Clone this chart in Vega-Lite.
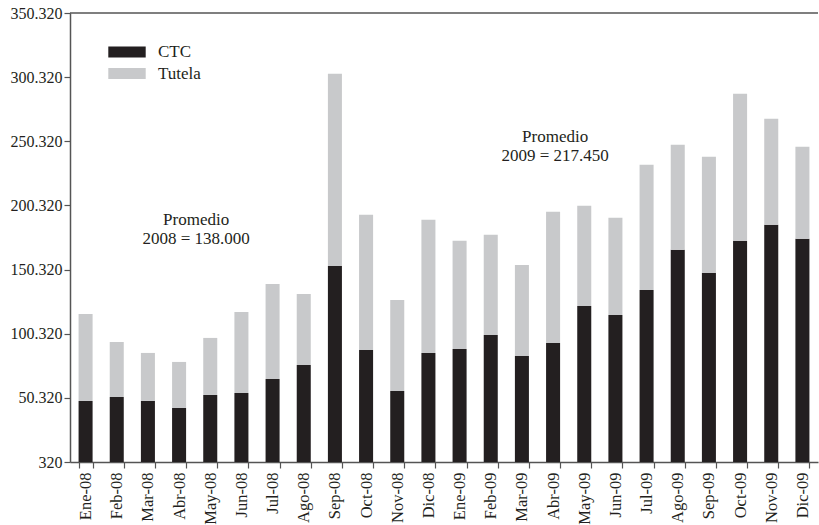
{
  "$schema": "https://vega.github.io/schema/vega-lite/v6.json",
  "width": 748,
  "height": 449,
  "autosize": {"type": "none"},
  "padding": {"left": 70, "top": 13, "right": 1, "bottom": 63},
  "background": "white",
  "config": {
    "view": {"stroke": null},
    "font": "Liberation Serif",
    "axis": {
      "domainColor": "#555555",
      "domainWidth": 1.5,
      "tickColor": "#555555",
      "tickWidth": 1.2,
      "tickSize": 6,
      "labelFont": "Liberation Serif",
      "labelFontSize": 16,
      "labelColor": "#231f20",
      "grid": false,
      "title": null
    }
  },
  "data": {
    "values": [
      {"mes": "Ene-08", "serie": "CTC", "valor": 47900}, {"mes": "Ene-08", "serie": "Tutela", "valor": 67860},
      {"mes": "Feb-08", "serie": "CTC", "valor": 51020}, {"mes": "Feb-08", "serie": "Tutela", "valor": 42900},
      {"mes": "Mar-08", "serie": "CTC", "valor": 47900}, {"mes": "Mar-08", "serie": "Tutela", "valor": 37440},
      {"mes": "Abr-08", "serie": "CTC", "valor": 42440}, {"mes": "Abr-08", "serie": "Tutela", "valor": 35880},
      {"mes": "May-08", "serie": "CTC", "valor": 52580}, {"mes": "May-08", "serie": "Tutela", "valor": 44460},
      {"mes": "Jun-08", "serie": "CTC", "valor": 54140}, {"mes": "Jun-08", "serie": "Tutela", "valor": 63180},
      {"mes": "Jul-08", "serie": "CTC", "valor": 65060}, {"mes": "Jul-08", "serie": "Tutela", "valor": 74100},
      {"mes": "Ago-08", "serie": "CTC", "valor": 75980}, {"mes": "Ago-08", "serie": "Tutela", "valor": 55380},
      {"mes": "Sep-08", "serie": "CTC", "valor": 153200}, {"mes": "Sep-08", "serie": "Tutela", "valor": 149760},
      {"mes": "Oct-08", "serie": "CTC", "valor": 87680}, {"mes": "Oct-08", "serie": "Tutela", "valor": 105300},
      {"mes": "Nov-08", "serie": "CTC", "valor": 55700}, {"mes": "Nov-08", "serie": "Tutela", "valor": 70980},
      {"mes": "Dic-08", "serie": "CTC", "valor": 85340}, {"mes": "Dic-08", "serie": "Tutela", "valor": 103740},
      {"mes": "Ene-09", "serie": "CTC", "valor": 88460}, {"mes": "Ene-09", "serie": "Tutela", "valor": 84240},
      {"mes": "Feb-09", "serie": "CTC", "valor": 99380}, {"mes": "Feb-09", "serie": "Tutela", "valor": 78000},
      {"mes": "Mar-09", "serie": "CTC", "valor": 83000}, {"mes": "Mar-09", "serie": "Tutela", "valor": 70980},
      {"mes": "Abr-09", "serie": "CTC", "valor": 93140}, {"mes": "Abr-09", "serie": "Tutela", "valor": 102180},
      {"mes": "May-09", "serie": "CTC", "valor": 122000}, {"mes": "May-09", "serie": "Tutela", "valor": 78000},
      {"mes": "Jun-09", "serie": "CTC", "valor": 114980}, {"mes": "Jun-09", "serie": "Tutela", "valor": 75660},
      {"mes": "Jul-09", "serie": "CTC", "valor": 134480}, {"mes": "Jul-09", "serie": "Tutela", "valor": 97500},
      {"mes": "Ago-09", "serie": "CTC", "valor": 165680}, {"mes": "Ago-09", "serie": "Tutela", "valor": 81900},
      {"mes": "Sep-09", "serie": "CTC", "valor": 147740}, {"mes": "Sep-09", "serie": "Tutela", "valor": 90480},
      {"mes": "Oct-09", "serie": "CTC", "valor": 172700}, {"mes": "Oct-09", "serie": "Tutela", "valor": 114660},
      {"mes": "Nov-09", "serie": "CTC", "valor": 185180}, {"mes": "Nov-09", "serie": "Tutela", "valor": 82680},
      {"mes": "Dic-09", "serie": "CTC", "valor": 174260}, {"mes": "Dic-09", "serie": "Tutela", "valor": 71760}
    ]
  },
  "layer": [
    {
      "mark": {"type": "bar", "clip": true},
      "encoding": {
        "x": {
          "field": "mes",
          "type": "nominal",
          "sort": null,
          "scale": {"paddingInner": 0.55, "paddingOuter": 0.275},
          "axis": {"labelAngle": -90, "labelPadding": 4, "labelFontSize": 16.5, "tickBand": "extent", "labelBaseline": "middle", "labelAlign": "right"}
        },
        "y": {
          "field": "valor",
          "type": "quantitative",
          "stack": "zero",
          "scale": {"domain": [320, 350320], "zero": false, "nice": false},
          "axis": {
            "values": [320, 50320, 100320, 150320, 200320, 250320, 300320, 350320],
            "labelExpr": "replace(format(datum.value, ','), ',', '.')",
            "labelPadding": 2
          }
        },
        "order": {"field": "serie", "sort": "ascending"},
        "color": {
          "field": "serie",
          "type": "nominal",
          "scale": {"domain": ["CTC", "Tutela"], "range": ["#231f20", "#c8c9cb"]},
          "legend": {
            "orient": "none",
            "legendX": 46,
            "legendY": 28,
            "title": null,
            "padding": 0,
            "symbolType": "M-1.7,-0.5L1.7,-0.5L1.7,0.5L-1.7,0.5Z",
            "symbolSize": 484,
            "symbolStrokeWidth": 0,
            "symbolOpacity": 1,
            "labelFont": "Liberation Serif",
            "labelFontSize": 17,
            "labelColor": "#231f20",
            "labelOffset": 20,
            "rowPadding": 2.5
          }
        }
      }
    },
    {
      "data": {"values": [{}]},
      "mark": {"type": "rule", "color": "#555555", "strokeWidth": 1.5},
      "encoding": {"y": {"datum": 350320}}
    },
    {
      "data": {"values": [{}]},
      "mark": {"type": "text", "text": ["Promedio", "2008 = 138.000"], "font": "Liberation Serif", "fontSize": 17, "lineHeight": 19, "fill": "#231f20", "align": "center", "baseline": "middle", "dx": 17},
      "encoding": {"x": {"datum": "Abr-08"}, "y": {"datum": 188690}}
    },
    {
      "data": {"values": [{}]},
      "mark": {"type": "text", "text": ["Promedio", "2009 = 217.450"], "font": "Liberation Serif", "fontSize": 17, "lineHeight": 19, "fill": "#231f20", "align": "center", "baseline": "middle", "dx": 2},
      "encoding": {"x": {"datum": "Abr-09"}, "y": {"datum": 253430}}
    }
  ]
}
